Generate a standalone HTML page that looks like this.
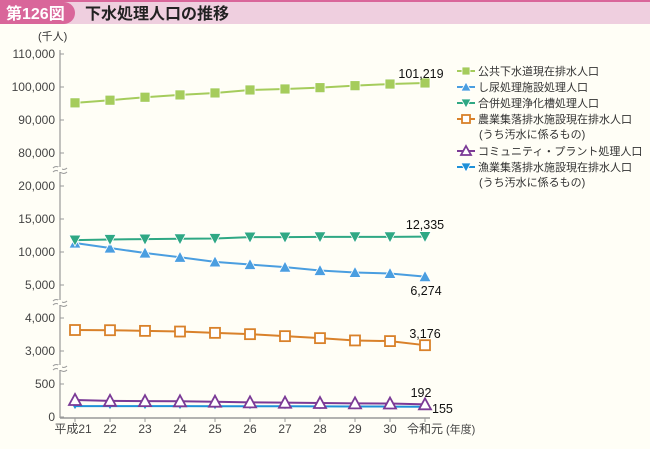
<!DOCTYPE html>
<html><head><meta charset="utf-8"><style>
body{margin:0;width:650px;height:444px;background:#fffef6;font-family:"Liberation Sans","Noto Sans CJK JP",sans-serif;overflow:hidden}
</style></head><body>
<svg id="c" width="650" height="444" xmlns="http://www.w3.org/2000/svg" font-family="Liberation Sans, Noto Sans CJK JP, sans-serif">
<rect x="0" y="0" width="650" height="24" fill="#efcfdf"/>
<rect x="0" y="0" width="650" height="2" fill="#d9669a"/>
<path d="M0 2 H64 A11 11 0 0 1 64 24 H0 Z" fill="#d9669a"/>
<text x="6" y="19" font-size="16" font-weight="bold" fill="#fff">第126図</text>
<text x="85" y="19" font-size="16" font-weight="bold" fill="#222">下水処理人口の推移</text>
<text x="38" y="40" font-size="11" fill="#333">(千人)</text>
<g id="axes"></g><g id="series"></g><g id="legend"></g>
</svg>
<script>
const categories=["平成21","22","23","24","25","26","27","28","29","30","令和元"];
const sewer=[95200,96000,96900,97600,98200,99100,99400,99800,100400,100900,101219];
const septic=[11360,10600,9850,9200,8500,8100,7700,7200,6900,6750,6274];
const joka=[11800,11900,11950,12000,12050,12250,12250,12300,12300,12300,12335];
const rural=[3636,3630,3610,3590,3550,3510,3450,3390,3320,3300,3176];
const community=[258,245,240,238,232,222,217,212,207,204,192];
const fishery=[165,165,164,164,163,163,162,161,160,158,155];
const ticks=[[110000,"110,000"],[100000,"100,000"],[90000,"90,000"],[80000,"80,000"],[20000,"20,000"],[15000,"15,000"],[10000,"10,000"],[5000,"5,000"],[4000,"4,000"],[3000,"3,000"],[500,"500"],[0,"0"]];
const NS="http://www.w3.org/2000/svg";
function el(t,a,p){const e=document.createElementNS(NS,t);for(const k in a)e.setAttribute(k,a[k]);p.appendChild(e);return e;}
function x(i){return 75+i*35;}
function y(v){
 if(v>=50000) return 87-(v-100000)/10000*33;
 if(v>=4500) return 252-(v-10000)/5000*33;
 if(v>=1000) return 351-(v-3000)/1000*33;
 return 417-v/500*33;}
const ax=document.getElementById('axes'),sg=document.getElementById('series'),lg=document.getElementById('legend');
const axis=el('line',{x1:60,y1:50,x2:60,y2:418,stroke:'#999','stroke-width':1.2},ax);

const xa=el('line',{x1:60,y1:418,x2:430,y2:418,stroke:'#999','stroke-width':1.5},ax);

ticks.forEach(t=>{const yy=y(t[0]);
 el('line',{x1:60,y1:yy,x2:64,y2:yy,stroke:'#999'},ax);
 const tx=el('text',{x:55,y:yy+4,'font-size':12,'text-anchor':'end',fill:'#444'},ax);tx.textContent=t[1];
 });
[170,303,368].forEach(b=>{
 const g=el('path',{d:`M53 ${b-2} q3 -3 7 0 t7 0 M53 ${b+2} q3 -3 7 0 t7 0`,stroke:'#999',fill:'none'},ax);
 
 el('rect',{x:58,y:b-3,width:4,height:5,fill:'#fffef6'},ax);});
categories.forEach((c,i)=>{
 el('line',{x1:x(i),y1:418,x2:x(i),y2:422,stroke:'#999'},ax);
 const t=el('text',{x:x(i)+(i==0?-2:0),y:433,'font-size':12,'text-anchor':'middle',fill:'#444'},ax);t.textContent=c;
 });
const yl=el('text',{x:446,y:433,'font-size':11,fill:'#444'},ax);yl.textContent="(年度)";

function marker(p,type,col,cx,cy,s){
 if(type=='sq')return el('rect',{x:cx-s,y:cy-s,width:2*s,height:2*s,fill:col,stroke:'#fff','stroke-width':0.8},p);
 if(type=='sqo')return el('rect',{x:cx-s,y:cy-s,width:2*s,height:2*s,fill:'#fff',stroke:col,'stroke-width':1.8},p);
 if(type=='up')return el('path',{d:`M${cx} ${cy-s-1}L${cx+s+1} ${cy+s}L${cx-s-1} ${cy+s}Z`,fill:col,stroke:'#fff','stroke-width':0.8},p);
 if(type=='upo')return el('path',{d:`M${cx} ${cy-s-1}L${cx+s+1} ${cy+s}L${cx-s-1} ${cy+s}Z`,fill:'#fff',stroke:col,'stroke-width':1.8},p);
 if(type=='dn')return el('path',{d:`M${cx} ${cy+s+1}L${cx+s+1} ${cy-s}L${cx-s-1} ${cy-s}Z`,fill:col,stroke:'#fff','stroke-width':0.8},p);
 if(type=='dns')return el('path',{d:`M${cx} ${cy+s}L${cx+s} ${cy-s+1}L${cx-s} ${cy-s+1}Z`,fill:col},p);}
const series=[
 {d:sewer,c:'#a5cc5c',m:'sq',s:5,n:'series-sewer'},
 {d:septic,c:'#4a9ee0',m:'up',s:5,n:'series-night-soil'},
 {d:joka,c:'#2fa884',m:'dn',s:5,n:'series-johkasou'},
 {d:rural,c:'#d9812a',m:'sqo',s:5,n:'series-rural'},
 {d:fishery,c:'#1e90d8',m:'dns',s:3,n:'series-fishery'},
 {d:community,c:'#7b3a96',m:'upo',s:5,n:'series-community'}];
series.forEach(se=>{
 const g=el('g',{},sg);
 el('polyline',{points:se.d.map((v,i)=>x(i)+','+y(v)).join(' '),fill:'none',stroke:se.c,'stroke-width':2},g);
 se.d.forEach((v,i)=>{const m=marker(g,se.m,se.c,x(i),y(v),se.s);});});
const labels=[[sewer,421,78,"101,219","middle"],[joka,425,229,"12,335","middle"],[septic,426,295,"6,274","middle"],[rural,425,338,"3,176","middle"],[community,421,397,"192","middle"],[fishery,432,413,"155","start"]];
labels.forEach(l=>{const t=el('text',{x:l[1],y:l[2],'font-size':12.5,'text-anchor':l[4],fill:'#111'},sg);t.textContent=l[3];
 });
const leg=[['sq','#a5cc5c',['公共下水道現在排水人口']],['up','#4a9ee0',['し尿処理施設処理人口']],['dn','#2fa884',['合併処理浄化槽処理人口']],['sqo','#d9812a',['農業集落排水施設現在排水人口','(うち汚水に係るもの)']],['upo','#7b3a96',['コミュニティ・プラント処理人口']],['dn','#1e90d8',['漁業集落排水施設現在排水人口','(うち汚水に係るもの)']]];
let ly=71;
leg.forEach(e=>{const g=el('g',{},lg);
 el('line',{x1:457,y1:ly,x2:475,y2:ly,stroke:e[1],'stroke-width':2},g);
 marker(g,e[0],e[1],466,ly,4);
 e[2].forEach((s,k)=>{const t=el('text',{x:k?479:478,y:ly+4+k*15,'font-size':11,fill:'#333'},g);t.textContent=s;});
 ly+=16*e[2].length;});
</script>
</body></html>
